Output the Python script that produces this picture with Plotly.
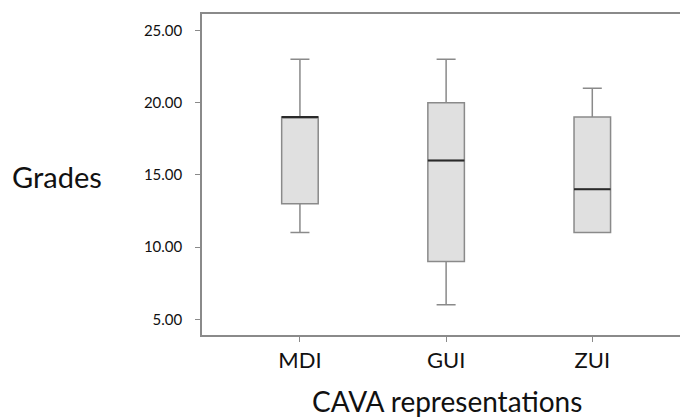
import plotly.graph_objects as go

categories = ["MDI", "GUI", "ZUI"]
minimums = [11, 6, 11]
q1_values = [13, 9, 11]
medians = [19, 16, 14]
q3_values = [19, 20, 19]
maximums = [23, 23, 21]
y_ticks = [5, 10, 15, 20, 25]

BOX_W = 0.25
FONT = "Lato"

fig = go.Figure()
for i, c in enumerate(categories):
    fig.add_trace(go.Box(
        x=[i], q1=[q1_values[i]], median=[medians[i]], q3=[q3_values[i]],
        lowerfence=[minimums[i]], upperfence=[maximums[i]],
        width=BOX_W, whiskerwidth=0.52,
        fillcolor="#e0e0e0", line=dict(color="#8a8a8a", width=1.5),
        showlegend=False, hoverinfo="skip", boxpoints=False,
    ))
    fig.add_trace(go.Scatter(
        x=[i - BOX_W / 2, i + BOX_W / 2], y=[medians[i], medians[i]],
        mode="lines", line=dict(color="#2a2a2a", width=2),
        showlegend=False, hoverinfo="skip",
    ))

fig.update_layout(
    width=680, height=419,
    margin=dict(l=202, r=0, t=14, b=84),
    plot_bgcolor="white", paper_bgcolor="white",
    font=dict(family=FONT, color="#111"),
    xaxis=dict(
        range=[-0.67, 2.6], tickvals=list(range(len(categories))), ticktext=categories,
        showline=True, linecolor="#8a8a8a", linewidth=1.5, mirror=True,
        ticks="outside", ticklen=5, tickcolor="#8a8a8a", tickwidth=1,
        showgrid=False, zeroline=False, tickfont=dict(size=22, family=FONT, color="#111"),
        ticklabelstandoff=0,
    ),
    yaxis=dict(
        range=[3.91, 26.14], tickvals=y_ticks, tickformat=".2f",
        showline=True, linecolor="#8a8a8a", linewidth=1.5,
        ticks="outside", ticklen=5, tickcolor="#8a8a8a", tickwidth=1,
        showgrid=False, zeroline=False, tickfont=dict(size=15, family=FONT, color="#111"),
        ticklabelstandoff=10,
    ),
    annotations=[
        dict(text="Grades", xref="paper", yref="paper", x=(57 - 202) / 478, y=(419 - 84 - 177) / 321,
             xanchor="center", yanchor="middle", showarrow=False, font=dict(size=29, family=FONT, color="#111")),
        dict(text="CAVA representations", xref="paper", yref="paper", x=(447 - 202) / 478, y=(419 - 84 - 401) / 321,
             xanchor="center", yanchor="middle", showarrow=False, font=dict(size=28, family=FONT, color="#111")),
    ],
)

fig.write_html("out.html")
